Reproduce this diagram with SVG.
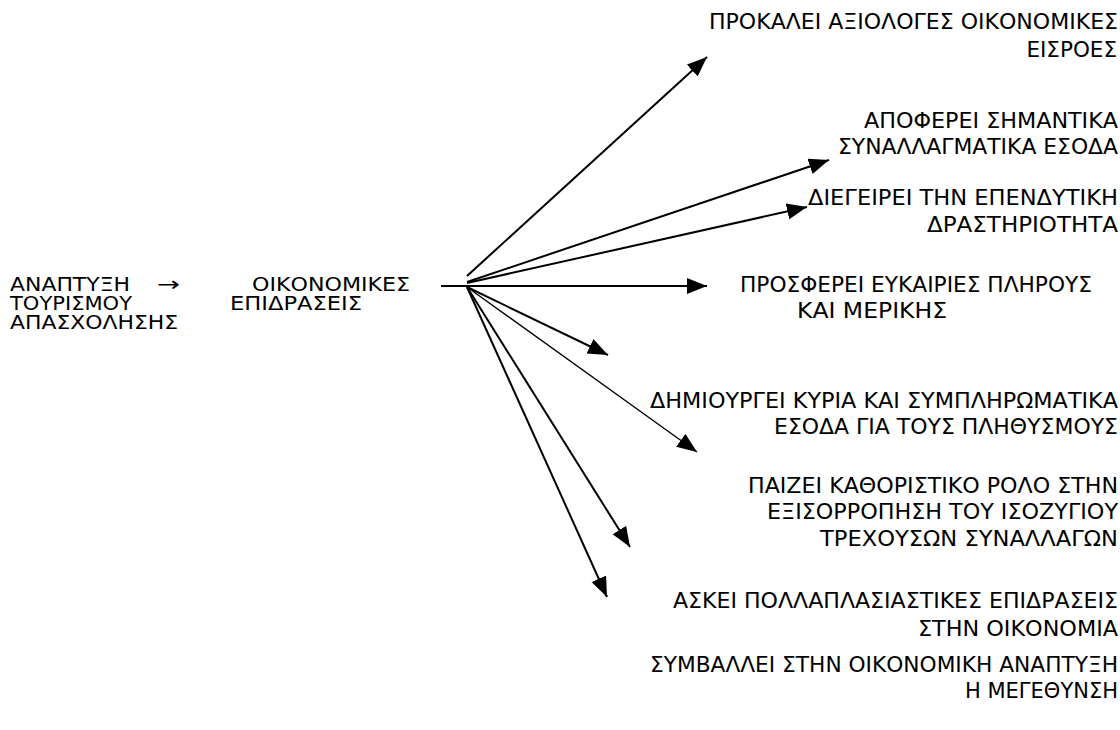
<svg xmlns="http://www.w3.org/2000/svg" width="1120" height="730" viewBox="0 0 1120 730">
<style>
text{font-family:"DejaVu Sans","Liberation Sans",sans-serif;font-size:21.5px;fill:#000}
.l{font-size:20px}
.r{text-anchor:end}
.c{stroke:#000;stroke-width:2;fill:none}
.t{stroke-width:1.3}
</style>
<defs>
<marker id="ah" markerUnits="userSpaceOnUse" markerWidth="22" markerHeight="18" refX="20" refY="8" orient="auto">
<path d="M0,0 L20,8 L0,16 Z" fill="#000"/>
</marker>
</defs>
<rect width="1120" height="730" fill="#fff"/>
<g id="source">
<text class="l" x="10" y="291" textLength="120" lengthAdjust="spacingAndGlyphs">ΑΝΑΠΤΥΞΗ</text>
<text class="l" x="10" y="310" textLength="122" lengthAdjust="spacingAndGlyphs">ΤΟΥΡΙΣΜΟΥ</text>
<text class="l" x="10" y="329" textLength="168" lengthAdjust="spacingAndGlyphs">ΑΠΑΣΧΟΛΗΣΗΣ</text>
<text class="l" x="157" y="291" textLength="23" lengthAdjust="spacingAndGlyphs">→</text>
</g>
<g id="hub">
<text class="l" x="252" y="291" textLength="158" lengthAdjust="spacingAndGlyphs">ΟΙΚΟΝΟΜΙΚΕΣ</text>
<text class="l" x="230" y="310" textLength="132" lengthAdjust="spacingAndGlyphs">ΕΠΙΔΡΑΣΕΙΣ</text>
</g>
<g id="connectors">
<line class="c" x1="441" y1="286" x2="707" y2="286" marker-end="url(#ah)"/>
<line class="c" x1="467" y1="276" x2="707" y2="57" marker-end="url(#ah)"/>
<line class="c" x1="467" y1="282" x2="829" y2="160" marker-end="url(#ah)"/>
<line class="c" x1="467" y1="283" x2="807" y2="207" marker-end="url(#ah)"/>
<line class="c" x1="467" y1="287" x2="608" y2="355" marker-end="url(#ah)"/>
<line class="c t" x1="467" y1="287" x2="697" y2="452" marker-end="url(#ah)"/>
<line class="c" x1="467" y1="287" x2="630" y2="547" marker-end="url(#ah)"/>
<line class="c" x1="467" y1="287" x2="607" y2="597" marker-end="url(#ah)"/>
</g>
<g id="n1"><text class="r" x="1118" y="29" textLength="409" lengthAdjust="spacingAndGlyphs">ΠΡΟΚΑΛΕΙ ΑΞΙΟΛΟΓΕΣ ΟΙΚΟΝΟΜΙΚΕΣ</text><text class="r" x="1117" y="57">ΕΙΣΡΟΕΣ</text></g>
<g id="n2"><text class="r" x="1118" y="128" textLength="254" lengthAdjust="spacingAndGlyphs">ΑΠΟΦΕΡΕΙ ΣΗΜΑΝΤΙΚΑ</text><text class="r" x="1118" y="154" textLength="280" lengthAdjust="spacingAndGlyphs">ΣΥΝΑΛΛΑΓΜΑΤΙΚΑ ΕΣΟΔΑ</text></g>
<g id="n3"><text class="r" x="1118" y="205" textLength="310" lengthAdjust="spacingAndGlyphs">ΔΙΕΓΕΙΡΕΙ ΤΗΝ ΕΠΕΝΔΥΤΙΚΗ</text><text class="r" x="1118" y="232" textLength="191" lengthAdjust="spacingAndGlyphs">ΔΡΑΣΤΗΡΙΟΤΗΤΑ</text></g>
<g id="n4"><text x="740" y="292" textLength="352" lengthAdjust="spacingAndGlyphs">ΠΡΟΣΦΕΡΕΙ ΕΥΚΑΙΡΙΕΣ ΠΛΗΡΟΥΣ</text><text x="797" y="318" textLength="150" lengthAdjust="spacingAndGlyphs">ΚΑΙ ΜΕΡΙΚΗΣ</text></g>
<g id="n5"><text class="r" x="1118" y="408" textLength="468" lengthAdjust="spacingAndGlyphs">ΔΗΜΙΟΥΡΓΕΙ ΚΥΡΙΑ ΚΑΙ ΣΥΜΠΛΗΡΩΜΑΤΙΚΑ</text><text class="r" x="1118" y="434" textLength="344" lengthAdjust="spacingAndGlyphs">ΕΣΟΔΑ ΓΙΑ ΤΟΥΣ ΠΛΗΘΥΣΜΟΥΣ</text></g>
<g id="n6"><text class="r" x="1118" y="493" textLength="370" lengthAdjust="spacingAndGlyphs">ΠΑΙΖΕΙ ΚΑΘΟΡΙΣΤΙΚΟ ΡΟΛΟ ΣΤΗΝ</text><text class="r" x="1118" y="519" textLength="351" lengthAdjust="spacingAndGlyphs">ΕΞΙΣΟΡΡΟΠΗΣΗ ΤΟΥ ΙΣΟΖΥΓΙΟΥ</text><text class="r" x="1118" y="546" textLength="298" lengthAdjust="spacingAndGlyphs">ΤΡΕΧΟΥΣΩΝ ΣΥΝΑΛΛΑΓΩΝ</text></g>
<g id="n7"><text class="r" x="1118" y="608" textLength="445" lengthAdjust="spacingAndGlyphs">ΑΣΚΕΙ ΠΟΛΛΑΠΛΑΣΙΑΣΤΙΚΕΣ ΕΠΙΔΡΑΣΕΙΣ</text><text class="r" x="1118" y="636" textLength="200" lengthAdjust="spacingAndGlyphs">ΣΤΗΝ ΟΙΚΟΝΟΜΙΑ</text></g>
<g id="n8"><text class="r" x="1118" y="672" textLength="468" lengthAdjust="spacingAndGlyphs">ΣΥΜΒΑΛΛΕΙ ΣΤΗΝ ΟΙΚΟΝΟΜΙΚΗ ΑΝΑΠΤΥΞΗ</text><text class="r" x="1118" y="698" textLength="153" lengthAdjust="spacingAndGlyphs">Η ΜΕΓΕΘΥΝΣΗ</text></g>
</svg>
